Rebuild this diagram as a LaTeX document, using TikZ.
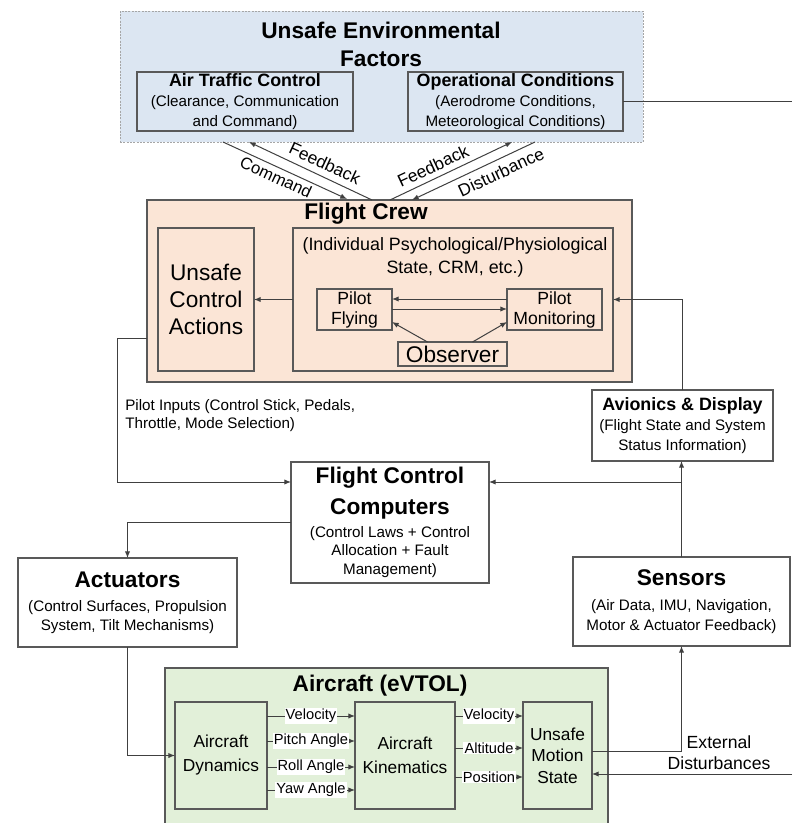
\documentclass[tikz,border=0pt]{standalone}
\usepackage{fontspec}
\setmainfont{Liberation Sans}
\usetikzlibrary{arrows.meta,calc}

\definecolor{envfill}{HTML}{DCE6F2}
\definecolor{crewfill}{HTML}{FBE5D6}
\definecolor{acfill}{HTML}{E2F0D9}
\definecolor{boxline}{HTML}{595959}
\definecolor{connline}{HTML}{404040}
\definecolor{dotline}{HTML}{A6A6A6}

% font sizes
\newcommand\fBig{\fontsize{17}{20}\selectfont\bfseries}
\newcommand\fSub{\fontsize{13.4}{15}\selectfont\bfseries}
\newcommand\fBody{\fontsize{11.4}{15}\selectfont}
\newcommand\fSmall{\fontsize{11}{13}\selectfont}

\begin{document}
\begin{tikzpicture}[x=0.75pt,y=-0.75pt,
  sz/.style 2 args={minimum width=#1*0.75pt, minimum height=#2*0.75pt},
  box/.style={draw=boxline, line width=0.9pt, inner sep=0pt, outer sep=0pt,
              align=center, anchor=north west},
  txt/.style={inner sep=0pt, align=center},
  conn/.style={draw=connline, line width=0.75pt},
  arr/.style={conn, -{Latex[length=5pt,width=4pt]}},
  lab/.style={fill=white, inner sep=0.8pt, font=\fSmall},
  flowlab/.style={inner sep=0pt, font=\fontsize{13}{15}\selectfont},
]
\clip (0,0) rectangle (792,823);
\fill[white] (0,0) rectangle (792,823);

% ---------- environment ----------
\node[box, sz={523}{131}, fill=envfill, draw=dotline, line width=0.6pt,
      dash pattern=on 1.5pt off 1pt] (env) at (120,11) {};
\node[txt, font=\fontsize{17}{21}\selectfont\bfseries] (envt) at (381,44)
  {Unsafe Environmental\\Factors};
\node[box, sz={216}{59}, font=\fBody] (atc) at (137,72)
  {{\fSub Air Traffic Control}\\(Clearance, Communication\\and Command)};
\node[box, sz={215}{59}, font=\fBody] (ops) at (408,72)
  {{\fSub Operational Conditions}\\(Aerodrome Conditions,\\Meteorological Conditions)};
\coordinate (opout) at (792,102);
\draw[conn] (ops.east) -- (ops.east -| opout);

% ---------- flight crew ----------
\node[box, sz={485}{182}, fill=crewfill] (crew) at (147,200) {};
\node[txt, font=\fBig] (crewt) at (366,214) {Flight Crew};
\node[box, sz={96}{143}, font=\fontsize{17}{20.25}\selectfont] (uca) at (158,228)
  {Unsafe\\Control\\Actions};
\node[box, sz={320}{143}] (inner) at (293,228) {};
\node[txt, font=\fontsize{13.4}{17.25}\selectfont] (innert) at (455,257)
  {(Individual Psychological/Physiological\\State, CRM, etc.)};
\node[box, sz={75}{41}, font=\fontsize{13.2}{15}\selectfont] (pf) at (317,289)
  {Pilot\\Flying};
\node[box, sz={95}{41}, font=\fontsize{13.2}{15}\selectfont] (pm) at (507,289)
  {Pilot\\Monitoring};
\node[box, sz={109}{24}, font=\fontsize{17}{20}\selectfont] (obs) at (398,342)
  {Observer};

\coordinate (yhi) at (0,299);
\coordinate (ylo) at (0,309);
\draw[arr] (pm.west |- yhi) -- (pf.east |- yhi);
\draw[arr] (pf.east |- ylo) -- (pm.west |- ylo);
\draw[arr] ($(obs.north)+(-25,0)$) -- ($(pf.south east)+(0,-8)$);
\draw[arr] ($(obs.north)+(20,0)$) -- ($(pm.south west)+(0,-8)$);
\draw[arr] (inner.west) -- (uca.east);

% ---------- crew / environment exchange ----------
\coordinate (cmdA) at (223,142);  \coordinate (cmdB) at (347,199);
\coordinate (fbLA) at (372,200);  \coordinate (fbLB) at (249,142);
\coordinate (fbRA) at (390,200);  \coordinate (fbRB) at (512,142);
\coordinate (dsA)  at (535,142);  \coordinate (dsB)  at (412,200);
\draw[arr] (cmdA) -- (cmdB);
\draw[arr] (fbLA) -- (fbLB);
\draw[arr] (fbRA) -- (fbRB);
\draw[arr] (dsA) -- (dsB);
\node[flowlab, rotate=-25, font=\fontsize{12.5}{15}\selectfont] (lcmd) at (276,177) {Command};
\node[flowlab, rotate=-25] (lfbl) at (325,163) {Feedback};
\node[flowlab, rotate=25] (lfbr) at (433,166) {Feedback};
\node[flowlab, rotate=25] (ldis) at (501,172) {Disturbance};

% ---------- avionics, computers, actuators, sensors ----------
\node[box, sz={181}{71}, font=\fBody] (avi) at (592,390)
  {{\fSub Avionics \& Display}\\(Flight State and System\\Status Information)};
\node[box, sz={198}{121}, font=\fontsize{11.4}{14}\selectfont] (fcc) at (291,462)
  {{\fBig Flight Control}\\[6.25pt]{\fBig Computers}\\[3.25pt]
   (Control Laws + Control\\Allocation + Fault\\Management)};
\node[box, sz={219}{89}, font=\fontsize{11.4}{14.25}\selectfont] (act) at (18,558)
  {{\fBig Actuators}\\[3.75pt](Control Surfaces, Propulsion\\System, Tilt Mechanisms)};
\node[box, sz={217}{89}, font=\fBody] (sens) at (573,557)
  {{\fBig Sensors}\\[3.75pt](Air Data, IMU, Navigation,\\Motor \& Actuator Feedback)};

\draw[arr] (avi.north) |- (inner.east);
\draw[arr] (sens.north) -- (sens.north |- avi.south);
\coordinate (jn) at (682,482);
\draw[arr] (jn) -- (jn -| fcc.east);

\coordinate (pin) at (147,338);
\draw[arr] (pin) -- (117,338) |- (fcc.west |- jn);
\node[txt, anchor=west, align=left, font=\fontsize{11.4}{13.5}\selectfont] (pil) at (125,416)
  {Pilot Inputs (Control Stick, Pedals,\\Throttle, Mode Selection)};

\draw[arr] (fcc.west) -| (act.north);

% ---------- aircraft ----------
\node[box, sz={443}{172}, fill=acfill] (ac) at (165,668) {};
\node[txt, font=\fBig] (act2) at (380,686) {Aircraft (eVTOL)};
\node[box, sz={92}{107}, font=\fontsize{13}{18}\selectfont] (dyn) at (175,702)
  {Aircraft\\Dynamics};
\node[box, sz={100}{107}, font=\fontsize{13}{18}\selectfont] (kin) at (355,702)
  {Aircraft\\Kinematics};
\node[box, sz={69}{107}, font=\fontsize{13}{16}\selectfont] (ums) at (523,702)
  {Unsafe\\Motion\\State};

\draw[arr] (act.south) |- (dyn.west);

\coordinate (d1) at (0,716);
\coordinate (d2) at (0,741);
\coordinate (d3) at (0,767);
\coordinate (d4) at (0,790);
\draw[arr] (dyn.east |- d1) -- node[lab] {Velocity} (kin.west |- d1);
\draw[arr] (dyn.east |- d2) -- node[lab] {Pitch Angle} (kin.west |- d2);
\draw[arr] (dyn.east |- d3) -- node[lab] {Roll Angle} (kin.west |- d3);
\draw[arr] (dyn.east |- d4) -- node[lab] {Yaw Angle} (kin.west |- d4);

\coordinate (k1) at (0,716);
\coordinate (k2) at (0,748);
\coordinate (k3) at (0,777);
\draw[arr] (kin.east |- k1) -- node[lab] {Velocity} (ums.west |- k1);
\draw[arr] (kin.east |- k2) -- node[lab] {Altitude} (ums.west |- k2);
\draw[arr] (kin.east |- k3) -- node[lab] {Position} (ums.west |- k3);

\coordinate (uout) at (0,751);
\draw[arr] (ums.east |- uout) -| (sens.south);

\coordinate (ext) at (792,774);
\draw[arr] (ext) -- (ext -| ums.east);
\node[txt, font=\fontsize{13.2}{15.75}\selectfont] (extl) at (719,753)
  {External\\Disturbances};

\end{tikzpicture}
\end{document}
